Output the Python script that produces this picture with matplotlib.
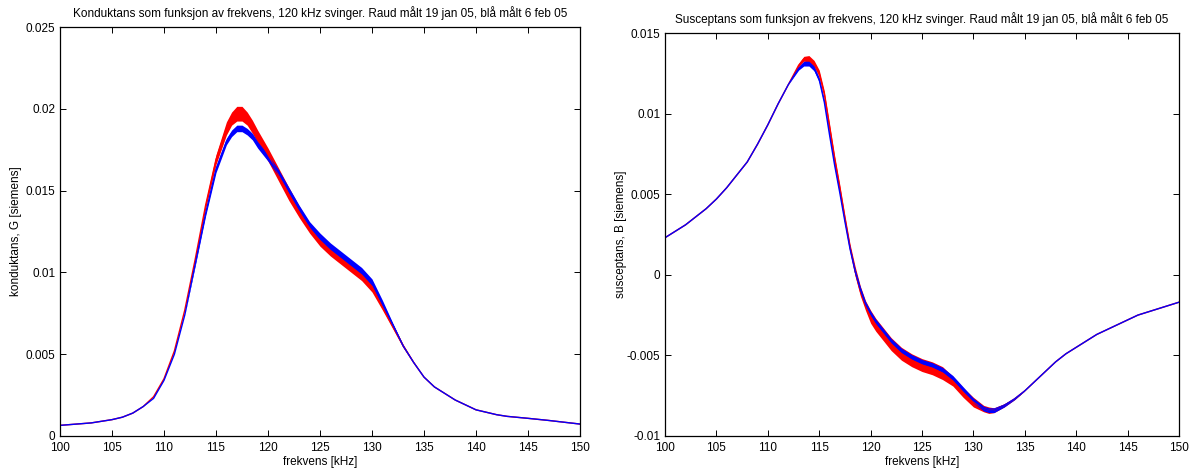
import matplotlib
matplotlib.use("Agg")
import matplotlib.pyplot as plt
import numpy as np

plt.rcParams['font.family'] = ['Liberation Sans', 'DejaVu Sans']

# ---------------- Conductance G ----------------
f_G = [100, 101, 102, 103, 104, 105, 106, 107, 108, 109,
       110, 111, 112, 113, 114, 115, 116, 116.5, 117, 117.5,
       118, 118.5, 119, 120, 121, 122, 123, 124, 125, 126,
       127, 128, 129, 130, 131, 132, 133, 134, 135, 136,
       137, 138, 139, 140, 141, 142, 143, 145, 147, 150]
G_red = [0.00065, 0.0007, 0.00075, 0.0008, 0.0009, 0.001, 0.00115, 0.0014, 0.0018, 0.0024,
         0.0035, 0.0052, 0.0077, 0.0108, 0.0141, 0.0169, 0.0188, 0.0194, 0.0197, 0.0197,
         0.0194, 0.0189, 0.0183, 0.0172, 0.0160, 0.0148, 0.0137, 0.0127, 0.0119, 0.0113,
         0.0108, 0.0103, 0.0098, 0.0091, 0.0079, 0.0067, 0.0055, 0.0045, 0.0036, 0.0030,
         0.0026, 0.0022, 0.0019, 0.0016, 0.00145, 0.0013, 0.0012, 0.00108, 0.00095, 0.00073]
G_red_hw = [0, 0, 0, 0, 0, 0, 0, 0, 0, 0,
            0, 0, 0, 0.0001, 0.0002, 0.0003, 0.0004, 0.0004, 0.00045, 0.00045,
            0.0004, 0.0004, 0.0004, 0.0004, 0.0004, 0.0004, 0.00035, 0.0003, 0.0003, 0.0003,
            0.0003, 0.0003, 0.0003, 0.0003, 0.0002, 0.00015, 0.0001, 0.00005, 0, 0,
            0, 0, 0, 0, 0, 0, 0, 0, 0, 0]
G_blue = [0.00065, 0.0007, 0.00075, 0.0008, 0.0009, 0.001, 0.00115, 0.0014, 0.0018, 0.0023,
          0.0034, 0.0050, 0.0074, 0.0105, 0.0136, 0.0163, 0.0180, 0.0185, 0.0188, 0.0188,
          0.0186, 0.0183, 0.0178, 0.0170, 0.0161, 0.0150, 0.0139, 0.0129, 0.0122, 0.0116,
          0.0111, 0.0106, 0.0101, 0.0094, 0.0081, 0.0068, 0.0055, 0.0045, 0.0036, 0.0030,
          0.0026, 0.0022, 0.0019, 0.0016, 0.00145, 0.0013, 0.0012, 0.00108, 0.00095, 0.00073]
G_blue_hw = [0, 0, 0, 0, 0, 0, 0, 0, 0, 0,
             0, 0, 0, 0.0001, 0.00015, 0.0002, 0.0002, 0.0002, 0.0002, 0.0002,
             0.0002, 0.0002, 0.0002, 0.0002, 0.0002, 0.0002, 0.0002, 0.0002, 0.0002, 0.0002,
             0.0002, 0.0002, 0.0002, 0.0002, 0.0002, 0.0001, 0.00005, 0, 0, 0,
             0, 0, 0, 0, 0, 0, 0, 0, 0, 0]

# ---------------- Susceptance B ----------------
f_B = [100, 101, 102, 103, 104, 105, 106, 107, 108, 109,
       110, 111, 112, 113, 113.5, 114, 114.5, 115, 115.5, 116,
       116.5, 117, 117.5, 118, 118.5, 119, 119.5, 120, 120.5, 121,
       122, 123, 124, 125, 126, 127, 128, 129, 130, 131,
       131.5, 132, 133, 134, 135, 136, 137, 138, 139, 140,
       141, 142, 143, 144, 145, 146, 147, 148, 149, 150]
B_blue = [0.0023, 0.0027, 0.0031, 0.0036, 0.0041, 0.0047, 0.0054, 0.0062, 0.0070, 0.0081,
          0.0093, 0.0106, 0.0118, 0.0128, 0.0131, 0.0131, 0.0128, 0.0121, 0.0107, 0.0087,
          0.0068, 0.0051, 0.0033, 0.0016, 0.0002, -0.0009, -0.0018, -0.0024, -0.0029, -0.0033,
          -0.0041, -0.0047, -0.0051, -0.0054, -0.0056, -0.0059, -0.0064, -0.0071, -0.0078, -0.0083,
          -0.0084, -0.0084, -0.0081, -0.0077, -0.0072, -0.0066, -0.0060, -0.0054, -0.0049, -0.0045,
          -0.0041, -0.0037, -0.0034, -0.0031, -0.0028, -0.0025, -0.0023, -0.0021, -0.0019, -0.0017]
B_red = [0.0023, 0.0027, 0.0031, 0.0036, 0.0041, 0.0047, 0.0054, 0.0062, 0.0070, 0.0081,
         0.0093, 0.0106, 0.0118, 0.0130, 0.0134, 0.0134, 0.0131, 0.0125, 0.0112, 0.0092,
         0.0072, 0.0054, 0.0035, 0.0017, 0.0002, -0.0010, -0.0019, -0.0026, -0.0031, -0.0035,
         -0.0043, -0.0049, -0.0053, -0.0056, -0.0058, -0.0061, -0.0066, -0.0073, -0.0079, -0.0083,
         -0.0084, -0.0084, -0.0081, -0.0077, -0.0072, -0.0066, -0.0060, -0.0054, -0.0049, -0.0045,
         -0.0041, -0.0037, -0.0034, -0.0031, -0.0028, -0.0025, -0.0023, -0.0021, -0.0019, -0.0017]
B_red_hw = [0, 0, 0, 0, 0, 0, 0, 0, 0, 0,
            0, 0, 0, 0.0001, 0.00015, 0.0002, 0.0002, 0.0002, 0.0002, 0.0002,
            0.0002, 0.0002, 0.0002, 0.0002, 0.0003, 0.0003, 0.0003, 0.0004, 0.0004, 0.0004,
            0.0004, 0.0004, 0.0004, 0.0004, 0.0004, 0.0004, 0.0003, 0.0003, 0.0003, 0.0002,
            0.0002, 0.00015, 0.0001, 0.00005, 0, 0, 0, 0, 0, 0,
            0, 0, 0, 0, 0, 0, 0, 0, 0, 0]
B_blue_hw = [0, 0, 0, 0, 0, 0, 0, 0, 0, 0,
             0, 0, 0, 0.0001, 0.00015, 0.00015, 0.00015, 0.00015, 0.00015, 0.00015,
             0.00015, 0.00015, 0.00015, 0.00015, 0.00015, 0.00015, 0.00015, 0.00015, 0.00015, 0.00015,
             0.00015, 0.00015, 0.00015, 0.00015, 0.00015, 0.00015, 0.00015, 0.00015, 0.00015, 0.00015,
             0.00015, 0.00015, 0.0001, 0.00005, 0, 0, 0, 0, 0, 0,
             0, 0, 0, 0, 0, 0, 0, 0, 0, 0]

x_ticks = [100, 105, 110, 115, 120, 125, 130, 135, 140, 145, 150]
G_ticks = [0, 0.005, 0.01, 0.015, 0.02, 0.025]
G_ticklabels = ['0', '0.005', '0.01', '0.015', '0.02', '0.025']
B_ticks = [-0.01, -0.005, 0, 0.005, 0.01, 0.015]
B_ticklabels = ['-0.01', '-0.005', '0', '0.005', '0.01', '0.015']

title_G = 'Konduktans som funksjon av frekvens, 120 kHz svinger. Raud målt 19 jan 05, blå målt 6 feb 05'
title_B = 'Susceptans som funksjon av frekvens, 120 kHz svinger. Raud målt 19 jan 05, blå målt 6 feb 05'

W, H = 1194, 470
fig = plt.figure(figsize=(W / 100, H / 100), dpi=100)
ax1 = fig.add_axes([60 / W, (H - 436) / H, 520 / W, 409 / H])
ax2 = fig.add_axes([665 / W, (H - 436) / H, 514 / W, 403 / H])

FS = 8.5


def draw(ax, f, c, hw, color):
    f = np.asarray(f)
    c = np.asarray(c)
    hw = np.asarray(hw)
    ax.fill_between(f, c - hw, c + hw, color=color, linewidth=0)
    ax.plot(f, c, color=color, linewidth=1.0)


draw(ax1, f_G, G_red, G_red_hw, '#ff0000')
draw(ax1, f_G, G_blue, G_blue_hw, '#0000ff')
draw(ax2, f_B, B_red, B_red_hw, '#ff0000')
draw(ax2, f_B, B_blue, B_blue_hw, '#0000ff')

for ax in (ax1, ax2):
    ax.set_xlim(100, 150)
    ax.set_xticks(x_ticks)
    ax.set_xticklabels([str(t) for t in x_ticks], fontsize=FS)
    ax.tick_params(axis='x', pad=4)
    ax.tick_params(direction='in', top=True, right=True, length=4, width=0.7,
                   labelsize=FS)
    for s in ax.spines.values():
        s.set_linewidth(0.9)
    ax.set_xlabel('frekvens [kHz]', fontsize=FS, labelpad=2)

ax1.set_ylim(0, 0.025)
ax1.set_yticks(G_ticks)
ax1.set_yticklabels(G_ticklabels)
ax1.set_ylabel('konduktans, G [siemens]', fontsize=FS, labelpad=2.5)
ax1.set_title(title_G, fontsize=FS, pad=7)

ax2.set_ylim(-0.01, 0.015)
ax2.set_yticks(B_ticks)
ax2.set_yticklabels(B_ticklabels)
ax2.set_ylabel('susceptans, B [siemens]', fontsize=FS, labelpad=0)
ax2.set_title(title_B, fontsize=FS, pad=7)

fig.savefig('out.png', dpi=100)
